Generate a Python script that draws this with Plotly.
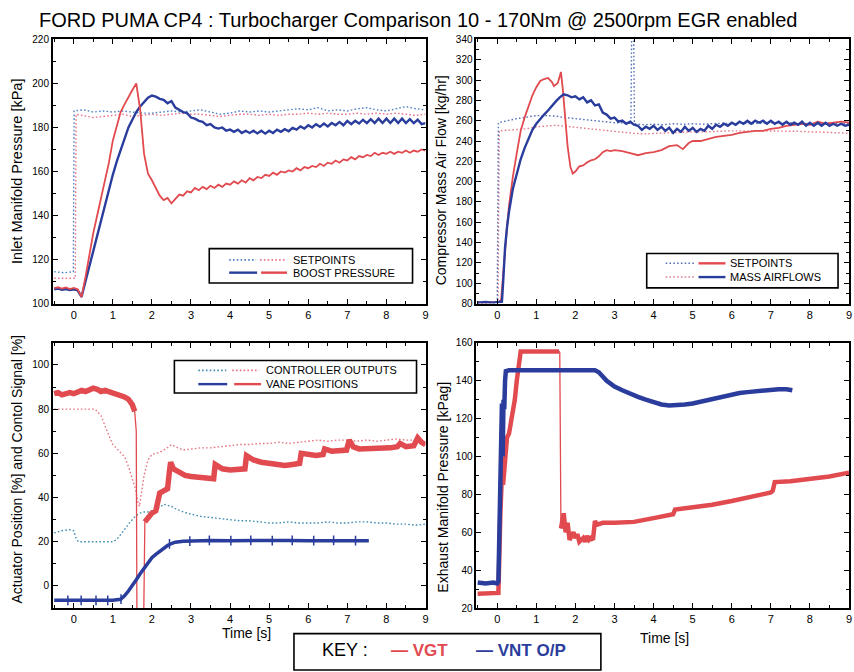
import numpy as np
import plotly.graph_objects as go

W, H = 854, 672
FONT = "Liberation Sans, Arial, sans-serif"

RED = "#e14a4f"
BLUE = "#2a3d9c"
SP_BLUE1 = "#4f82c6"
SP_RED1 = "#e8728a"
SP_BLUE2 = "#5674b8"
SP_RED2 = "#e47a8c"
CTL_BLUE = "#3f8db4"
CTL_RED = "#e57480"
DOT = "1.6px,2.2px"

# ---------------- Panel 1 : inlet manifold pressure [kPa] ----------------
T = np.round(np.arange(-0.5, 9.0001, 0.1), 2)

boost_vnt = [106.5, 106.8, 106.3, 106.6, 106.2, 106.5, 106.0,
             103.0,
             110, 117, 124, 131, 138, 145, 152, 158.5, 164.5, 170,
             175.5, 180, 183.5, 187, 189.5, 191.5, 193.5, 194.5, 194, 193,
             192.5, 191, 192, 189, 188, 187, 186.5, 184.5,
             184, 183, 182.5, 181, 181.5, 180, 179.5, 180, 178.5, 179,
             178, 179, 177.5, 178.5, 177.5, 178.5, 177.3, 178.5, 177.2, 178.5,
             177.5, 179, 178, 179.2, 178.3, 179.8, 179, 180.5, 179.5, 181,
             180, 181.5, 180.3, 181.8, 180.5, 182, 181, 182.5, 181, 183,
             181.5, 183, 181.8, 183.5, 182, 183.8, 182, 184, 182, 184,
             182, 184, 182, 184, 182, 183.8, 182, 183.5, 181.5, 182]

boost_vgt = [107, 107.4, 106.8, 107.3, 106.6, 107.1, 106.5,
             103,
             112, 122, 132, 140, 148, 156, 164, 174, 181, 187,
             190.5, 194, 197, 200, 188, 168, 159, 156, 152.5, 149,
             147, 148, 145.5, 147.5, 149.5, 149, 151, 150.5,
             152.5, 151.5, 153, 152, 153.5, 152.5, 154, 153, 154.5, 154,
             155.5, 154.5, 156, 155, 157, 156, 157.5, 157, 158.5, 158,
             159.5, 158.5, 160, 159.5, 160.5, 160, 161.5, 160.5, 162, 161.5,
             162.5, 162, 163.5, 162.5, 164, 163.5, 165, 164, 165.5, 165,
             166.5, 165.5, 167, 166.5, 167.5, 167, 168.5, 167.5, 168.5, 168,
             169, 168, 169, 168.5, 169.5, 168.5, 169.5, 169, 170, 169.5]

Q = list(np.round(np.arange(0.25, 9.0001, 0.25), 2))

t_sp1_vnt = [-0.5, -0.25, -0.01, 0.01] + Q
sp1_vnt = [114.5, 114, 114.5, 187.5,
           188, 187, 187.5, 187, 187.5, 187, 186.5, 186.5, 187, 187.5, 187, 187.5,
           188, 187, 186, 186.5, 187.5, 187, 187.5, 187, 187.5, 188, 188.5, 188,
           189, 187.5, 188, 187.5, 188.5, 189, 188, 187.5, 188.5, 189.5, 188.5, 188]

t_sp1_vgt = [-0.5, -0.25, 0.04, 0.06] + Q
sp1_vgt = [111.5, 111.5, 111.5, 186,
           185.5, 184.5, 185, 185.5, 186, 185, 185.5, 186, 185.5, 186, 186.5, 186,
           186, 185.5, 185, 185.5, 186, 186, 185.5, 186, 185.5, 186, 186, 186.5,
           186, 186.5, 186, 186, 186.5, 186, 186.5, 186, 186.5, 186, 185.5, 186]

# ---------------- Panel 2 : compressor mass air flow [kg/hr] ----------------
t_maf_vgt = [-0.5, -0.3, -0.1, 0.05, 0.1, 0.15, 0.2, 0.25, 0.3, 0.4,
             0.5, 0.6, 0.7, 0.8, 0.9, 1.0, 1.1, 1.2, 1.3, 1.4,
             1.45, 1.55, 1.63, 1.68, 1.75, 1.8, 1.87, 1.93, 2.0, 2.1,
             2.2, 2.3, 2.4, 2.5, 2.6, 2.7, 2.8, 2.9, 3.0, 3.2,
             3.4, 3.6, 3.8, 4.0, 4.2, 4.4, 4.6, 4.75, 4.9, 5.0,
             5.2, 5.4, 5.6, 5.8, 6.0, 6.2, 6.4, 6.6, 6.8, 7.0,
             7.2, 7.4, 7.6, 7.8, 8.0, 8.2, 8.4, 8.6, 8.8, 9.0]
maf_vgt = [81.5, 81, 81.5, 81.5, 84, 110, 135, 155, 176, 205,
           228, 250, 263, 275, 285, 293, 299, 301, 302, 298,
           294, 297, 308, 290, 255, 235, 215, 208, 210, 215,
           216, 219, 221, 222, 225, 229, 231, 230, 231, 230,
           228, 226, 228, 229, 231, 235, 236, 232, 238, 240,
           240, 242, 244, 245, 246, 248, 249, 250, 250, 252,
           253, 255, 256, 257, 256, 259, 257, 258, 259, 258]

t_maf_vnt = [-0.5, -0.3, -0.1, 0.05, 0.12, 0.15, 0.2, 0.25, 0.3, 0.4,
             0.5, 0.6, 0.7, 0.8, 0.9, 1.0, 1.1, 1.2, 1.3, 1.4,
             1.5, 1.6, 1.7, 1.8, 1.9] + list(np.round(np.arange(2.0, 9.0001, 0.1), 2))
maf_vnt = [81, 81.5, 81, 81.5, 82, 100, 135, 155, 170, 193,
           208, 222, 233, 242, 251, 257, 262, 266, 270, 275,
           279, 283, 286, 285, 283,
           284, 281, 283, 278, 280, 275, 276, 268, 266, 262,
           263, 259, 260, 257, 259, 256, 255, 251, 254, 252,
           255, 251, 254, 250, 253, 248, 252, 249, 254, 250,
           253, 249, 252, 250, 255, 252, 256, 254, 257, 255,
           258, 256, 259, 257, 260, 257, 260, 258, 260, 257,
           260, 257, 259, 256, 259, 256, 258, 256, 259, 255,
           258, 255, 258, 255, 258, 255, 257, 255, 257, 255,
           256]

t_sp2_vnt = [-0.5, -0.25, 0.0, 0.03, 0.25, 0.5, 0.75, 1.0, 1.25, 1.5,
             1.75, 2.0, 2.25, 2.5, 2.75, 3.0, 3.25, 3.42, 3.44, 3.49,
             3.51, 3.75, 4.0, 4.25, 4.5, 4.75, 5.0, 5.25, 5.5, 5.75,
             6.0, 6.25, 6.5, 6.75, 7.0, 7.25, 7.5, 7.75, 8.0, 8.25,
             8.5, 8.75, 9.0]
sp2_vnt = [80.5, 81, 81, 258, 260, 262, 263.5, 265, 265, 264.5,
           263, 262, 261, 260.5, 259, 258, 258, 257, 350, 350,
           257, 256, 256.5, 256, 257, 256.5, 257, 256.5, 257, 257.5,
           257, 257.5, 257, 257.5, 258, 257.5, 258, 257, 257.5, 257,
           257.5, 257, 257]

t_sp2_vgt = [-0.5, -0.25, 0.02, 0.05] + Q
sp2_vgt = [80.5, 81, 81, 250,
           250.5, 251, 252, 254, 255, 255.5, 254.5, 253.5, 252.5, 251, 250, 249,
           248.5, 247.5, 247, 247.5, 247.5, 248, 248.5, 249, 249, 249.5, 249.5, 250,
           250, 249.5, 250, 250, 249.5, 250, 249.5, 249, 249, 248.5, 248, 247.5]

# ---------------- Panel 3 : actuator position / control signal [%] ----------------
t_vane_vgt = [-0.5, -0.4, -0.3, -0.2, -0.1, 0.0, 0.1, 0.2, 0.3, 0.4,
              0.5, 0.6, 0.7, 0.8, 0.9, 1.0, 1.1, 1.2, 1.3, 1.4,
              1.5, 1.56, 1.6, 1.62, 1.78, 1.82, 1.9, 2.0, 2.1, 2.15,
              2.2, 2.3, 2.4, 2.45, 2.48, 2.55, 2.7, 2.85, 3.0, 3.2,
              3.4, 3.58, 3.62, 3.8, 4.0, 4.2, 4.38, 4.42, 4.6, 4.8,
              5.0, 5.2, 5.4, 5.6, 5.78, 5.82, 6.0, 6.2, 6.38, 6.42,
              6.6, 6.8, 6.98, 7.05, 7.15, 7.3, 7.5, 7.7, 7.9, 8.1,
              8.28, 8.35, 8.5, 8.7, 8.8, 8.9, 9.0]
vane_vgt = [87, 87.5, 86.5, 87, 87.5, 87, 88, 88.5, 88, 89,
            89.5, 89, 88, 88.5, 88, 87, 87, 86, 85.5, 84.5,
            82, 79, 70, -30, -30, 29, 31, 33, 34, 40,
            42, 43, 44, 52, 56, 53, 51.5, 50, 49.5, 49,
            48.5, 48.5, 55, 53, 52.5, 52.5, 53, 59, 57, 56,
            55.5, 55, 54.5, 55, 55.5, 60, 59.5, 59, 59.5, 62,
            61, 61, 61.5, 66, 63, 62, 62, 62, 62.5, 62.5,
            63, 64.5, 63, 63.5, 67, 65, 64]

t_vane_vnt = [-0.5, 0.0, 0.5, 1.0, 1.2, 1.3, 1.4, 1.5, 1.6, 1.7,
              1.8, 1.9, 2.0, 2.1, 2.2, 2.3, 2.4, 2.5, 2.6, 2.8,
              3.0, 3.5, 4.0, 4.5, 5.0, 5.5, 6.0, 6.5, 7.0, 7.55]
vane_vnt = [-6.5, -6.5, -6.5, -6.5, -6, -4.5, -2.3, 0, 2.8, 5.5,
            8, 10.5, 12.8, 14.3, 15.8, 17.2, 18.3, 19.2, 19.8, 20.2,
            20.4, 20.6, 20.5, 20.6, 20.5, 20.6, 20.5, 20.6, 20.5, 20.5]

t_vane_spk = [-0.15, 0.19, 0.57, 0.87, 1.21, 2.45, 2.97, 3.47, 4.02, 4.53,
              5.08, 5.59, 6.14, 6.65, 7.21]
vane_spk = [-6.5, -6.5, -6.5, -6.5, -6, 19, 20.3, 20.6, 20.5, 20.6,
            20.5, 20.6, 20.5, 20.6, 20.5]

t_ctl_vgt = [-0.5, 0.0, 0.55, 0.7, 0.8, 0.9, 1.0, 1.1, 1.2, 1.3,
             1.4, 1.5, 1.58, 1.64, 1.68, 1.75, 1.8, 1.9, 2.0, 2.2,
             2.35, 2.5, 2.6, 2.8, 3.0] + list(np.round(np.arange(3.25, 9.0001, 0.25), 2))
ctl_vgt = [80, 80, 80, 77, 72, 68, 64, 62, 60.5, 58.5,
           54, 48, 44, 38, 36, 44, 50, 57, 59.5, 60.5,
           62, 64, 63, 61.5, 62,
           62.5, 62.5, 63, 63.5, 64, 64, 64.5, 64.5, 65, 64.5, 65, 65.5,
           66, 65.5, 66, 66, 65.5, 66, 65.5, 66, 66.5, 66, 66, 65.5]

t_ctl_vnt = [-0.5, -0.3, -0.1, 0.0, 0.05, 0.12, 0.5, 1.0, 1.1, 1.2,
             1.3, 1.4, 1.5, 1.6, 1.7, 1.8, 1.9, 2.0, 2.1, 2.2,
             2.3, 2.4, 2.5, 2.6, 2.8, 3.0] + list(np.round(np.arange(3.25, 9.0001, 0.25), 2))
ctl_vnt = [24, 25, 25.5, 25, 22, 20, 20, 20, 21, 23,
           25.5, 28, 30, 32, 33, 33.5, 33.5, 34, 35, 35.5,
           37, 36.5, 36, 35, 33.5, 32.5,
           31.5, 31, 30.5, 30, 29.5, 29.5, 29, 28.5, 28.5, 29, 28.5, 28.5,
           28.5, 29, 28.5, 28.5, 29, 29, 28.5, 28.5, 28, 28, 27.5, 28]

# ---------------- Panel 4 : exhaust manifold pressure [kPag] ----------------
t_exh_vnt = [-0.5, -0.3, -0.1, 0.0, 0.03, 0.08, 0.1, 0.12, 0.14, 0.16,
             0.18, 0.2, 0.22, 0.3, 0.6, 1.0, 1.5, 2.0, 2.5, 2.6,
             2.7, 2.8, 2.9, 3.0, 3.2, 3.4, 3.6, 3.8, 4.0, 4.2,
             4.4, 4.6, 4.8, 5.0, 5.2, 5.4, 5.6, 5.8, 6.0, 6.2,
             6.4, 6.6, 6.8, 7.0, 7.2, 7.4, 7.55]
exh_vnt = [33.5, 33, 33.5, 33, 34, 80, 100, 128, 100, 130,
           125, 140, 145, 145.5, 145.5, 145, 145.5, 145, 145.5, 144.5,
           142, 140, 138.5, 137, 135, 133, 131.5, 130, 128.5, 127.5,
           127, 127, 127.5, 128, 129, 130, 131, 132, 133, 133.5,
           134, 134.5, 135, 135.5, 135.5, 135.5, 135]

t_exh_vgt = [-0.5, -0.2, 0.0, 0.03, 0.08, 0.12, 0.15, 0.2, 0.25, 0.3,
             0.35, 0.4, 0.45, 0.5, 0.55, 0.6, 0.8, 1.0, 1.2, 1.4,
             1.58, 1.6, 1.63, 1.7, 1.75, 1.8, 1.85, 1.9, 1.95, 2.0,
             2.05, 2.1, 2.2, 2.25, 2.3, 2.35, 2.4, 2.45, 2.5, 2.55,
             2.7, 3.0, 3.5, 4.0, 4.5, 4.55, 5.0, 5.5, 6.0, 6.5,
             7.0, 7.05, 7.1, 7.5, 8.0, 8.5, 9.0]
exh_vgt = [27.5, 27.5, 27.5, 28, 70, 90, 85, 100, 110, 112,
           118, 125, 130, 140, 150, 155.5, 155.5, 155.5, 155.5, 155.5,
           155.5, 155, 62, 70, 60, 65, 56, 58, 60, 57,
           59, 55, 57, 55, 58, 56, 57, 56, 66, 64,
           65, 65, 65.5, 67.5, 69.5, 72, 73, 74.5, 76.5, 78.5,
           81, 82, 86.5, 87, 88, 89.5, 91.5]

TITLE = "FORD PUMA CP4 : Turbocharger Comparison 10 - 170Nm @ 2500rpm EGR enabled"
YTITLES = ["Inlet Manifold Pressure [kPa]", "Compressor Mass Air Flow [kg/hr]",
           "Actuator Position [%] and Contol Signal [%]", "Exhaust Manifold Pressure [kPag]"]
XTITLE = "Time [s]"
X_TICKS = list(range(0, 10))


def px(x):
    return x / W


def py(y):
    return 1 - y / H


fig = go.Figure()


def line(x, y, ax, color, width, dash=None):
    fig.add_trace(go.Scatter(x=list(x), y=list(y), xaxis="x" + ax, yaxis="y" + ax,
                             mode="lines", line=dict(color=color, width=width, dash=dash),
                             showlegend=False, hoverinfo="skip", connectgaps=False))


def masked(t, v, keep):
    return [val if keep(tt) else None for tt, val in zip(t, v)]


# panel 1
line(t_sp1_vgt, sp1_vgt, "", SP_RED1, 1.4, DOT)
line(t_sp1_vnt, sp1_vnt, "", SP_BLUE1, 1.4, DOT)
line(T, boost_vnt, "", BLUE, 2.4)
line(T, boost_vgt, "", RED, 1.8)

# panel 2
line(t_sp2_vgt, sp2_vgt, "2", SP_RED2, 1.4, DOT)
line(t_sp2_vnt, sp2_vnt, "2", SP_BLUE2, 1.4, DOT)
line(t_maf_vgt, maf_vgt, "2", RED, 1.8)
line(t_maf_vnt, maf_vnt, "2", BLUE, 2.4)

# panel 3
line(t_ctl_vnt, ctl_vnt, "3", CTL_BLUE, 1.4, DOT)
line(t_ctl_vgt, ctl_vgt, "3", CTL_RED, 1.4, DOT)
line(t_vane_vgt, vane_vgt, "3", RED, 1.3)
line(t_vane_vgt, masked(t_vane_vgt, vane_vgt, lambda t: t < 1.57 or t > 1.81), "3", RED, 5.5)
line(t_vane_vnt, vane_vnt, "3", BLUE, 3.5)
fig.add_trace(go.Scatter(x=t_vane_spk, y=vane_spk, xaxis="x3", yaxis="y3", mode="markers",
                         marker=dict(symbol="line-ns", size=7, line=dict(color=BLUE, width=1.5)),
                         showlegend=False, hoverinfo="skip"))

# panel 4
line(t_exh_vgt, exh_vgt, "4", RED, 1.3)
line(t_exh_vgt, masked(t_exh_vgt, exh_vgt, lambda t: t < 1.59 or t > 1.62), "4", RED, 4.5)
line(t_exh_vnt, exh_vnt, "4", BLUE, 4.5)

XL = [53, 427]
XR = [478, 852]
YT = [303, 34]
YB = [613, 343]


def xax(dom, anchor):
    return dict(domain=[px(dom[0]), px(dom[1])], range=[-0.535, 9], anchor=anchor,
                tickvals=X_TICKS, ticks="inside", ticklen=5, tickwidth=1.2, tickcolor="black",
                showline=True, linecolor="black", linewidth=1.6, mirror="allticks",
                showgrid=False, zeroline=False,
                tickfont=dict(family=FONT, size=11, color="black"),
                minor=dict(dtick=0.5, tick0=0, ticks="inside", ticklen=3, tickcolor="black",
                           tickwidth=1, showgrid=False),
                fixedrange=True)


def yax(dom, rng, anchor):
    return dict(domain=[py(dom[0]), py(dom[1])], range=rng, anchor=anchor,
                tick0=0, dtick=20, ticks="inside", ticklen=5, tickwidth=1.2, tickcolor="black",
                showline=True, linecolor="black", linewidth=1.6, mirror="allticks",
                showgrid=False, zeroline=False,
                tickfont=dict(family=FONT, size=10, color="black"),
                minor=dict(dtick=10, tick0=0, ticks="inside", ticklen=3, tickcolor="black",
                           tickwidth=1, showgrid=False),
                fixedrange=True)


shapes = []
annotations = []


def ann(x, y, text, size, color="black", xanchor="center", angle=0):
    annotations.append(dict(x=px(x), y=py(y), xref="paper", yref="paper", text=text,
                            showarrow=False, xanchor=xanchor, yanchor="middle",
                            textangle=angle, font=dict(family=FONT, size=size, color=color)))


def box(x0, y0, x1, y1):
    shapes.append(dict(type="rect", xref="paper", yref="paper", x0=px(x0), x1=px(x1),
                       y0=py(y1), y1=py(y0), line=dict(color="black", width=1.6),
                       fillcolor="white", layer="above"))


def seg(x0, x1, y, color, dash=None, width=2.4):
    shapes.append(dict(type="line", xref="paper", yref="paper", x0=px(x0), x1=px(x1),
                       y0=py(y), y1=py(y), line=dict(color=color, width=width,
                                                     dash=dash or "solid"), layer="above"))


# legend panel 1
box(210, 247, 414, 282)
seg(230, 257, 258.5, SP_BLUE1, DOT, 1.6)
seg(261, 287, 258.5, SP_RED1, DOT, 1.6)
ann(292, 258.5, "SETPOINTS", 11, xanchor="left")
seg(230, 258, 271.5, BLUE)
seg(262, 288, 271.5, RED)
ann(292, 271.5, "BOOST PRESSURE", 11, xanchor="left")

# legend panel 2
box(649, 252, 841, 287)
seg(668, 698, 262, SP_BLUE2, DOT, 1.6)
seg(701, 728, 262, RED)
ann(731, 262, "SETPOINTS", 11, xanchor="left")
seg(668, 698, 276, SP_RED2, DOT, 1.6)
seg(701, 728, 276, BLUE)
ann(731, 276, "MASS AIRFLOWS", 11, xanchor="left")

# legend panel 3
box(175, 361, 418, 394)
seg(199, 227, 371, CTL_BLUE, DOT, 1.6)
seg(233, 260, 371, CTL_RED, DOT, 1.6)
ann(265, 371, "CONTROLLER OUTPUTS", 11, xanchor="left")
seg(199, 228, 385, BLUE)
seg(235, 262, 385, RED)
ann(265, 385, "VANE POSITIONS", 11, xanchor="left")

# key box
box(295, 639, 603, 676)
ann(321, 656, "KEY :", 18, xanchor="left")
ann(390, 656, "<b>— VGT</b>", 17, RED, xanchor="left")
ann(476, 656, "<b>— VNT O/P</b>", 17, BLUE, xanchor="left")

# title and axis titles
ann(419, 14, TITLE, 20)
ann(17, 168, YTITLES[0], 14.5, angle=-90)
ann(442, 177, YTITLES[1], 14, angle=-90)
ann(17, 472, YTITLES[2], 14, angle=-90)
ann(445, 490, YTITLES[3], 14, angle=-90)
ann(247, 638, XTITLE, 14)
ann(667, 643, XTITLE, 14)

fig.update_layout(
    width=W, height=H, autosize=False,
    margin=dict(l=0, r=0, t=0, b=0, pad=0),
    paper_bgcolor="white", plot_bgcolor="white",
    showlegend=False,
    xaxis=xax(XL, "y"), yaxis=yax(YT, [100, 220], "x"),
    xaxis2=xax(XR, "y2"), yaxis2=yax(YT, [80, 340], "x2"),
    xaxis3=xax(XL, "y3"), yaxis3=yax(YB, [-10, 110], "x3"),
    xaxis4=xax(XR, "y4"), yaxis4=yax(YB, [20, 160], "x4"),
    shapes=shapes, annotations=annotations,
)

fig.write_html("out.html")
